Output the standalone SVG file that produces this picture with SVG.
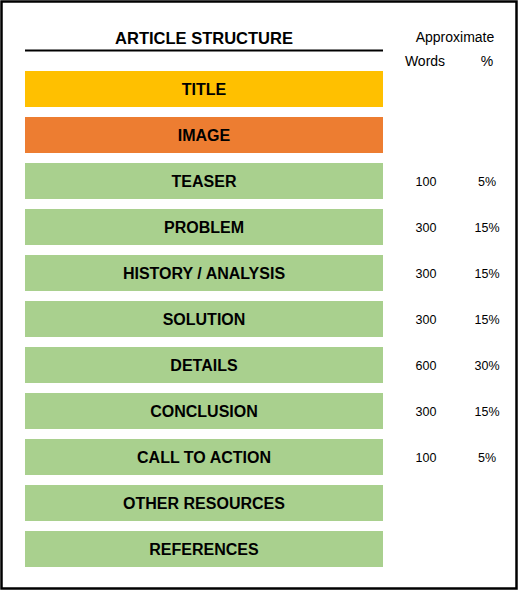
<svg xmlns="http://www.w3.org/2000/svg" width="518" height="590" viewBox="0 0 518 590">
<style>
.bar-t{font-family:"Liberation Sans",Arial,sans-serif;font-weight:bold;font-size:16px;fill:#000;text-anchor:middle}
.num{font-family:"Liberation Sans",Arial,sans-serif;font-size:12.5px;fill:#000;text-anchor:middle}
.g{fill:#A9D08E}
</style>
<rect x="0" y="0" width="518" height="590" fill="#fff"/>
<rect x="1.5" y="1.5" width="515" height="587" fill="none" stroke="#000" stroke-width="2.5"/>
<g id="header">
<text x="204" y="44" class="bar-t" style="font-size:16.5px">ARTICLE STRUCTURE</text>
<line x1="25" y1="50.5" x2="383" y2="50.5" stroke="#000" stroke-width="2"/>
<text x="455" y="42" class="num" style="font-size:14px">Approximate</text>
<text x="425" y="66" class="num" style="font-size:14px">Words</text>
<text x="487" y="66" class="num" style="font-size:14px">%</text>
</g>
<g id="title"><rect x="25" y="71" width="358" height="36" fill="#FFC000"/><text x="204" y="95" class="bar-t">TITLE</text></g>
<g id="image"><rect x="25" y="117" width="358" height="36" fill="#ED7D31"/><text x="204" y="141" class="bar-t">IMAGE</text></g>
<g id="teaser"><rect x="25" y="163" width="358" height="36" class="g"/><text x="204" y="187" class="bar-t">TEASER</text><text x="426" y="186" class="num">100</text><text x="487" y="186" class="num">5%</text></g>
<g id="problem"><rect x="25" y="209" width="358" height="36" class="g"/><text x="204" y="233" class="bar-t">PROBLEM</text><text x="426" y="232" class="num">300</text><text x="487" y="232" class="num">15%</text></g>
<g id="history"><rect x="25" y="255" width="358" height="36" class="g"/><text x="204" y="279" class="bar-t">HISTORY / ANALYSIS</text><text x="426" y="278" class="num">300</text><text x="487" y="278" class="num">15%</text></g>
<g id="solution"><rect x="25" y="301" width="358" height="36" class="g"/><text x="204" y="325" class="bar-t">SOLUTION</text><text x="426" y="324" class="num">300</text><text x="487" y="324" class="num">15%</text></g>
<g id="details"><rect x="25" y="347" width="358" height="36" class="g"/><text x="204" y="371" class="bar-t">DETAILS</text><text x="426" y="370" class="num">600</text><text x="487" y="370" class="num">30%</text></g>
<g id="conclusion"><rect x="25" y="393" width="358" height="36" class="g"/><text x="204" y="417" class="bar-t">CONCLUSION</text><text x="426" y="416" class="num">300</text><text x="487" y="416" class="num">15%</text></g>
<g id="cta"><rect x="25" y="439" width="358" height="36" class="g"/><text x="204" y="463" class="bar-t">CALL TO ACTION</text><text x="426" y="462" class="num">100</text><text x="487" y="462" class="num">5%</text></g>
<g id="other"><rect x="25" y="485" width="358" height="36" class="g"/><text x="204" y="509" class="bar-t">OTHER RESOURCES</text></g>
<g id="references"><rect x="25" y="531" width="358" height="36" class="g"/><text x="204" y="555" class="bar-t">REFERENCES</text></g>
<g id="connectors"/>
</svg>
